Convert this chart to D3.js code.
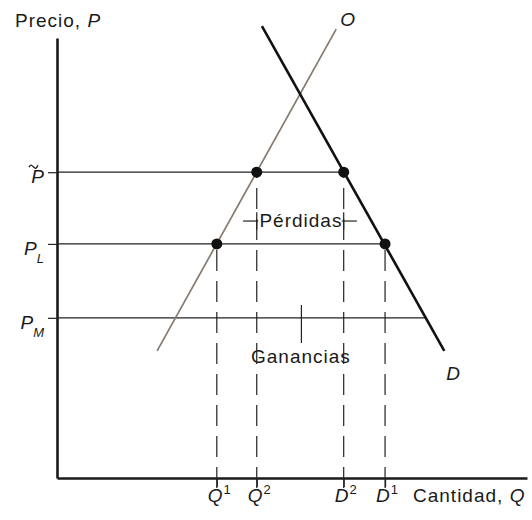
<!DOCTYPE html>
<html>
<head>
<meta charset="utf-8">
<script src="https://cdn.jsdelivr.net/npm/d3@7/dist/d3.min.js"></script>
<style>
  body { margin: 0; background: #fff; }
  text { font-family: "Liberation Sans", Arial, sans-serif; fill: #1a1a1a; }
</style>
</head>
<body>
<div id="chart"></div>
<script>
(function () {

  // quantities on the horizontal axis (Q1, Q2, D2, D1)
  var qValues = [34, 42.5, 61, 69.8],
    qLetters = ["Q", "Q", "D", "D"],
    qSups = ["1", "2", "2", "1"],
    // where each dashed line stops (price level of its dot)
    qTops = [53.2, 69.5, 69.5, 53.2],
    // prices on the vertical axis (P tilde, P_L, P_M)
    pValues = [69.5, 53.2, 36.4],
    pSubs = ["", "L", "M"],
    // how far right each price line reaches
    pEnds = [61, 69.8, 78.3],
    // supply (O) and demand (D) lines, [quantity, price]
    supply = [[21.3, 28.9], [59.4, 102]],
    demand = [[43.6, 102.7], [82.4, 28.9]],
    // the four dots
    dots = [[42.5, 69.5], [61, 69.5], [34, 53.2], [69.8, 53.2]],
    // annotations
    lossLevel = 57,
    lossBracket = [[39.6, 42.8], [60.6, 63.8]],
    gainTick = [52, 30.7, 39.3],
    gainLevel = 26.1;

  var w = 532,
    h = 520,
    svg, x, y;

  function makeChart() {
    svg = d3.select("#chart").append("svg")
      .attr("width", w)
      .attr("height", h);

    x = d3.scaleLinear().domain([0, 100]).range([57, 527]);
    y = d3.scaleLinear().domain([0, 100]).range([478, 38]);

    drawTexts();
    drawAxes();
    drawPriceLines();
    drawDashes();
    drawCurves();
    drawDots();
    drawLabels();
  }

  // Pérdidas / Ganancias sit under the dashed lines
  function drawTexts() {
    svg.append("text")
      .attr("x", x(51.9)).attr("y", y(lossLevel))
      .attr("text-anchor", "middle")
      .style("font-size", "19px").style("letter-spacing", "1px")
      .text("Pérdidas");

    svg.selectAll(".bracket")
      .data(lossBracket).enter()
      .append("line")
      .attr("x1", function (d) { return x(d[0]); })
      .attr("x2", function (d) { return x(d[1]); })
      .attr("y1", y(lossLevel + 1.4))
      .attr("y2", y(lossLevel + 1.4))
      .style("stroke", "#222").style("stroke-width", 1.2);

    svg.selectAll(".bracketTick")
      .data([qValues[1], qValues[2]]).enter()
      .append("line")
      .attr("x1", function (d) { return x(d); })
      .attr("x2", function (d) { return x(d); })
      .attr("y1", y(lossLevel + 3.4))
      .attr("y2", y(lossLevel - 0.6))
      .style("stroke", "#222").style("stroke-width", 1.2);

    svg.append("text")
      .attr("x", x(51.9)).attr("y", y(gainLevel))
      .attr("text-anchor", "middle")
      .style("font-size", "19px").style("letter-spacing", "1px")
      .text("Ganancias");

    svg.append("line")
      .attr("x1", x(gainTick[0])).attr("x2", x(gainTick[0]))
      .attr("y1", y(gainTick[1])).attr("y2", y(gainTick[2]))
      .style("stroke", "#222").style("stroke-width", 1.2);
  }

  function drawAxes() {
    var xAxis = svg.append("g")
      .attr("transform", "translate(0," + y(0) + ")")
      .call(d3.axisBottom(x).tickValues(qValues).tickSize(9).tickSizeOuter(0).tickFormat(""));
    var yAxis = svg.append("g")
      .attr("transform", "translate(" + x(0) + ",0)")
      .call(d3.axisLeft(y).tickValues(pValues).tickSize(9).tickSizeOuter(0).tickFormat(""));

    [xAxis, yAxis].forEach(function (g) {
      g.select(".domain").style("stroke", "#1a1a1a").style("stroke-width", 2.6);
      g.selectAll(".tick line").style("stroke", "#222").style("stroke-width", 1.2);
    });
  }

  function drawPriceLines() {
    svg.selectAll(".priceLine")
      .data(pValues).enter()
      .append("line")
      .attr("x1", x(0))
      .attr("x2", function (d, i) { return x(pEnds[i]); })
      .attr("y1", function (d) { return y(d); })
      .attr("y2", function (d) { return y(d); })
      .style("stroke", "#222").style("stroke-width", 1.3);
  }

  // dashes run up from just under the axis to each dot
  function drawDashes() {
    svg.selectAll(".dash")
      .data(qValues).enter()
      .append("line")
      .attr("x1", function (d) { return x(d); })
      .attr("x2", function (d) { return x(d); })
      .attr("y1", y(0) + 10)
      .attr("y2", function (d, i) { return y(qTops[i]); })
      .style("stroke", "#222").style("stroke-width", 1.2)
      .style("stroke-dasharray", "21,10");
  }

  function drawCurves() {
    var line = d3.line()
      .x(function (d) { return x(d[0]); })
      .y(function (d) { return y(d[1]); });

    svg.append("path").datum(supply)
      .attr("d", line)
      .style("fill", "none").style("stroke", "#857a70").style("stroke-width", 1.7);

    svg.append("path").datum(demand)
      .attr("d", line)
      .style("fill", "none").style("stroke", "#111").style("stroke-width", 2.6);
  }

  function drawDots() {
    svg.selectAll(".dot")
      .data(dots).enter()
      .append("circle")
      .attr("cx", function (d) { return x(d[0]); })
      .attr("cy", function (d) { return y(d[1]); })
      .attr("r", 5.5)
      .style("fill", "#111");
  }

  function drawLabels() {
    // axis titles
    var py = svg.append("text").attr("x", 15).attr("y", 27)
      .style("font-size", "19px").style("letter-spacing", "1px");
    py.append("tspan").text("Precio, ");
    py.append("tspan").style("font-style", "italic").style("letter-spacing", "0px").text("P");

    var qx = svg.append("text").attr("x", 413).attr("y", 502)
      .style("font-size", "19px").style("letter-spacing", "1px");
    qx.append("tspan").text("Cantidad, ");
    qx.append("tspan").style("font-style", "italic").style("letter-spacing", "0px").text("Q");

    // curve names
    svg.append("text")
      .attr("x", x(supply[1][0]) + 4).attr("y", 26)
      .style("font-size", "19px").style("font-style", "italic")
      .text("O");
    svg.append("text")
      .attr("x", x(demand[1][0]) + 2).attr("y", y(demand[1][1]) + 29)
      .style("font-size", "19px").style("font-style", "italic")
      .text("D");

    // price labels
    var pl = svg.selectAll(".pLabel")
      .data(pValues).enter()
      .append("text")
      .attr("x", 44)
      .attr("y", function (d) { return y(d) + 11; })
      .attr("text-anchor", "end")
      .style("font-size", "19px").style("font-style", "italic");
    pl.append("tspan").text("P");
    pl.append("tspan")
      .attr("dy", 8)
      .style("font-size", "13px")
      .text(function (d, i) { return pSubs[i]; });

    // tilde over the first P, drawn as a small wave just above the letter
    var ty = y(pValues[0]) - 6;
    svg.append("path")
      .attr("d", d3.line().curve(d3.curveBasis)([
        [29, ty + 1], [31, ty - 2], [33.5, ty + 1], [36, ty + 3], [38, ty - 1]
      ]))
      .style("fill", "none").style("stroke", "#1a1a1a").style("stroke-width", 1.3);

    // quantity labels
    var ql = svg.selectAll(".qLabel")
      .data(qValues).enter()
      .append("text")
      .attr("x", function (d) { return x(d) - 9; })
      .attr("y", 502)
      .style("font-size", "19px");
    ql.append("tspan").style("font-style", "italic")
      .text(function (d, i) { return qLetters[i]; });
    ql.append("tspan")
      .attr("dx", 1).attr("dy", -8)
      .style("font-size", "13px")
      .text(function (d, i) { return qSups[i]; });
  }

  makeChart();
})();
</script>
</body>
</html>
